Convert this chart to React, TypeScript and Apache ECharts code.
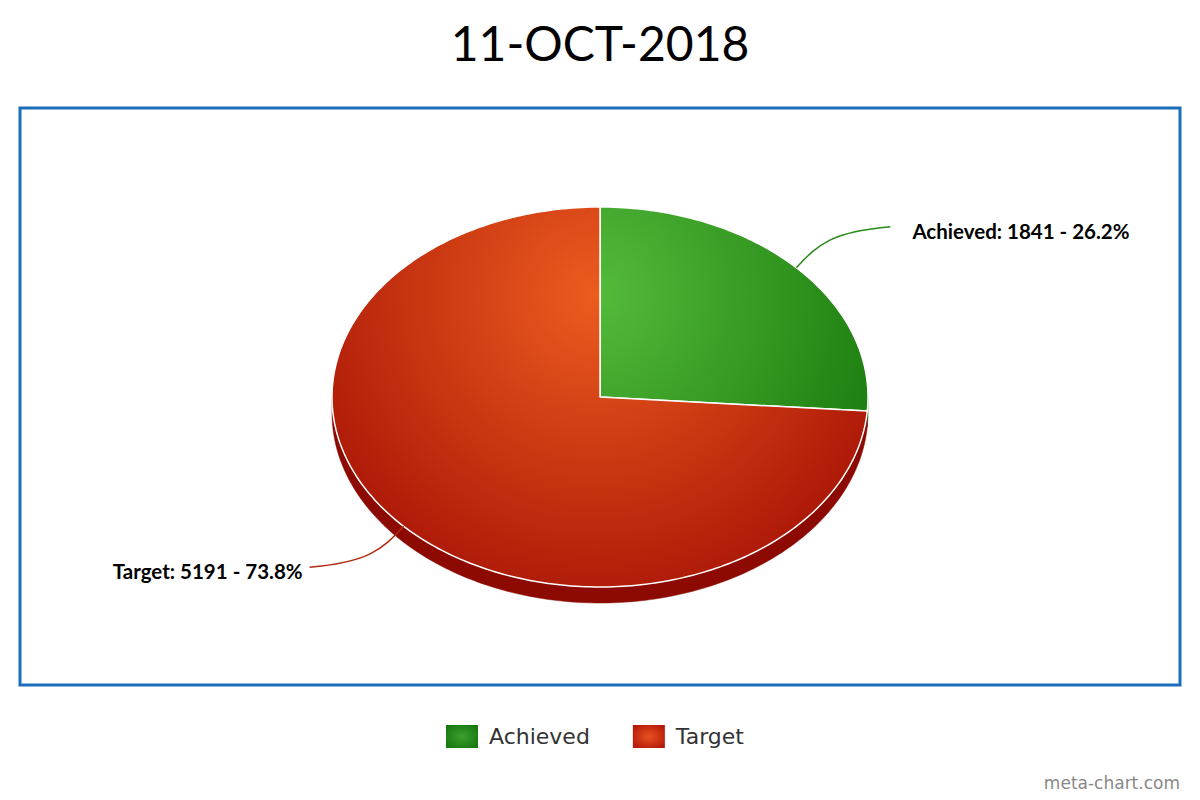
import React, { useRef, useEffect } from 'react';
import * as echarts from 'echarts';

// chart data
const chartTitle = '11-OCT-2018';
const categories = ['Achieved', 'Target'];
const values = [1841, 5191];

// colours per slice: [highlight, edge]
const topColors = [
  ['#55bb3b', '#16780b'],
  ['#ec5c1f', '#a91506'],
];
const sideColors = ['#0f5f07', '#8c0a02'];
const lineColors = ['#2a8a1c', '#b02a10'];
const legendColors = [
  ['#3e9e2e', '#177a10'],
  ['#e6541f', '#b7190a'],
];

// pie layout (pseudo 3D, squashed ellipse)
const CX = 600;
const CY = 397;
const RX = 268;
const RY = 190;
const DEPTH = 16;

const total = values.reduce((a, b) => a + b, 0);

const rim = (deg: number, dy = 0): number[] => {
  const r = (deg * Math.PI) / 180;
  return [CX + RX * Math.sin(r), CY - RY * Math.cos(r) + dy];
};

const arcPoints = (from: number, to: number, dy = 0): number[][] => {
  const n = Math.max(2, Math.ceil(Math.abs(to - from)));
  const pts: number[][] = [];
  for (let k = 0; k <= n; k++) pts.push(rim(from + ((to - from) * k) / n, dy));
  return pts;
};

const makeRenderItem = (idx: number) => (params: any, api: any) => {
  const before = values.slice(0, idx).reduce((a, b) => a + b, 0);
  const value = api.value(0);
  const start = (before / total) * 360;
  const end = ((before + value) / total) * 360;
  const mid = (start + end) / 2;
  const children: any[] = [];

  // visible side wall: the part of the slice on the front half
  const s0 = Math.max(start, 90);
  const s1 = Math.min(end, 270);
  if (s1 > s0) {
    children.push({
      type: 'polygon',
      z2: 1,
      shape: { points: arcPoints(s0, s1).concat(arcPoints(s1, s0, DEPTH)) },
      style: { fill: sideColors[idx], stroke: sideColors[idx], lineWidth: 0.5 },
    });
  }

  // top face
  children.push({
    type: 'polygon',
    z2: 5,
    shape: { points: [[CX, CY]].concat(arcPoints(start, end)) },
    style: {
      fill: new echarts.graphic.RadialGradient(
        595,
        295,
        330,
        [
          { offset: 0, color: topColors[idx][0] },
          { offset: 1, color: topColors[idx][1] },
        ],
        true
      ),
      stroke: '#ffffff',
      lineWidth: 1.5,
      lineJoin: 'round',
    },
  });

  // connector + label
  const anchor = rim(mid);
  const dir = Math.sin((mid * Math.PI) / 180) >= 0 ? 1 : -1;
  const vy = Math.cos((mid * Math.PI) / 180) >= 0 ? -1 : 1;
  const endX = anchor[0] + dir * 94;
  const endY = anchor[1] + vy * 41;
  children.push({
    type: 'bezierCurve',
    z2: 8,
    shape: {
      x1: anchor[0],
      y1: anchor[1],
      cpx1: anchor[0] + dir * 22,
      cpy1: anchor[1] + vy * 24,
      cpx2: anchor[0] + dir * 36,
      cpy2: anchor[1] + vy * 36,
      x2: endX,
      y2: endY,
    },
    style: { stroke: lineColors[idx], lineWidth: 1.5, fill: 'none' },
  });
  const pct = ((value / total) * 100).toFixed(1);
  children.push({
    type: 'text',
    z2: 10,
    x: endX + dir * (dir > 0 ? 22 : 7),
    y: endY + 4,
    style: {
      text: `${categories[idx]}: ${value} - ${pct}%`,
      fill: '#000000',
      fontFamily: 'Lato',
      fontWeight: 'bold',
      fontSize: 20.5,
      align: dir > 0 ? 'left' : 'right',
      verticalAlign: 'middle',
    },
  });

  return { type: 'group', children };
};

const App: React.FC = () => {
  const chartRef = useRef<HTMLDivElement>(null);

  useEffect(() => {
    if (!chartRef.current) return;
    const chart = echarts.init(chartRef.current, undefined, { renderer: 'svg' });

    chart.setOption({
      animation: false,
      backgroundColor: '#ffffff',
      title: {
        text: chartTitle,
        left: 'center',
        top: 13,
        textStyle: {
          fontFamily: 'Lato',
          fontSize: 48,
          fontWeight: 'normal',
          color: '#000000',
        },
      },
      legend: {
        data: categories,
        left: 441,
        top: 720,
        icon: 'rect',
        itemWidth: 32,
        itemHeight: 23,
        itemGap: 43,
        selectedMode: false,
        textStyle: {
          fontFamily: 'DejaVu Sans',
          fontSize: 22,
          color: '#333333',
          padding: [0, 0, 0, 6],
        },
      },
      graphic: [
        {
          type: 'rect',
          shape: { x: 20, y: 108, width: 1160, height: 577 },
          style: { fill: 'none', stroke: '#1b6fba', lineWidth: 3 },
          silent: true,
        },
        {
          type: 'text',
          right: 20,
          top: 774,
          style: {
            text: 'meta-chart.com',
            fill: '#888888',
            fontFamily: 'DejaVu Sans',
            fontSize: 17,
          },
          silent: true,
        },
      ],
      series: categories.map((name, idx) => ({
        type: 'custom',
        name,
        coordinateSystem: 'none',
        silent: true,
        data: [values[idx]],
        itemStyle: {
          color: new echarts.graphic.RadialGradient(0.5, 0.5, 0.6, [
            { offset: 0, color: legendColors[idx][0] },
            { offset: 1, color: legendColors[idx][1] },
          ]),
        },
        renderItem: makeRenderItem(idx),
      })),
    });

    return () => {
      chart.dispose();
    };
  }, []);

  return (
    <div
      ref={chartRef}
      style={{ position: 'absolute', left: 0, top: 0, width: 1200, height: 800 }}
    />
  );
};

export default App;
